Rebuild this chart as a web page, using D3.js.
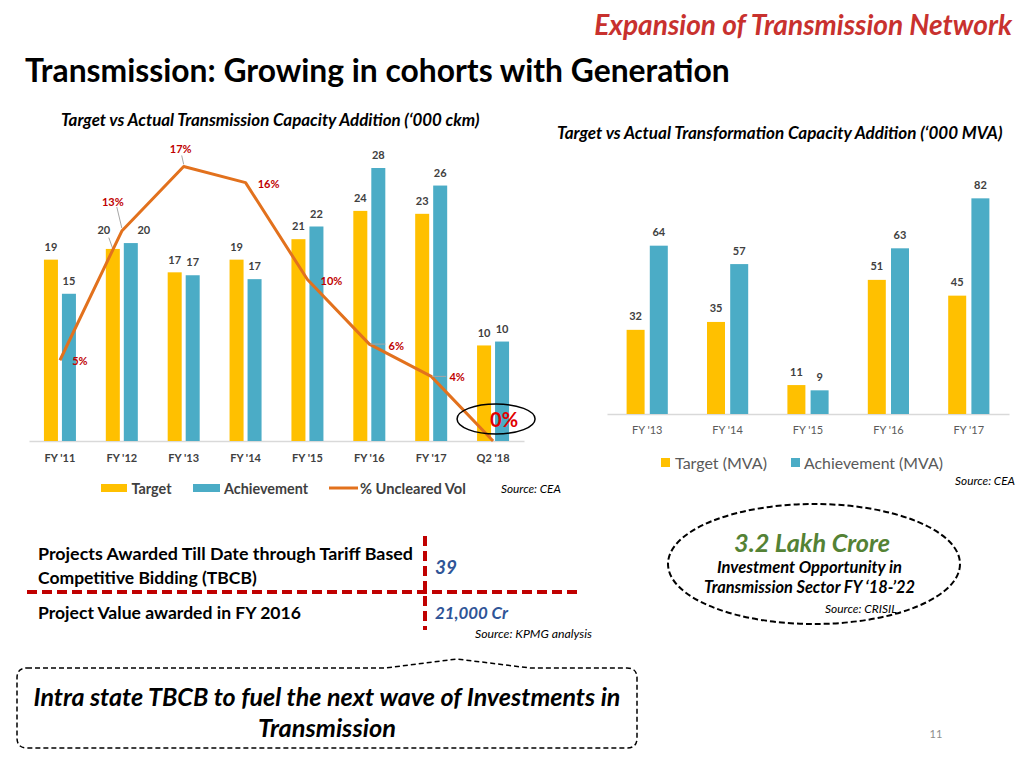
<!DOCTYPE html>
<html>
<head>
<meta charset="utf-8">
<script src="https://cdn.jsdelivr.net/npm/d3@7"></script>
<style>
  html, body { margin: 0; padding: 0; background: #ffffff; }
  svg { display: block; }
  text { font-family: Lato, "Open Sans", "Liberation Sans", sans-serif; }
</style>
</head>
<body>
<script>
// ---------------- DATA ----------------
const categories = ["FY '11", "FY '12", "FY '13", "FY '14", "FY '15", "FY '16", "FY '17", "Q2 '18"];
const targetCkm = [18.6, 19.7, 17.3, 18.6, 20.7, 23.6, 23.3, 9.8];
const achievementCkm = [15.1, 20.3, 17.0, 16.6, 22.0, 28.0, 26.2, 10.2];
const unclearedPct = [5, 13, 17, 16, 10, 6, 4, 0];

const mvaCategories = ["FY '13", "FY '14", "FY '15", "FY '16", "FY '17"];
const targetMva = [32, 35, 11, 51, 45];
const achievementMva = [64, 57, 9, 63, 82];

const leftLegend = ["Target", "Achievement", "% Uncleared Vol"];
const rightLegend = ["Target (MVA)", "Achievement (MVA)"];

// ---------------- STYLE ----------------
const YELLOW = "#FFC000", BLUE = "#4BACC6", ORANGE = "#E2711D";
const DARK = "#404040", RED = "#C00000";

const svg = d3.select("body").append("svg").attr("width", 1024).attr("height", 768);

function addText(parent, o) {
  const t = parent.append("text")
    .attr("x", o.x).attr("y", o.y)
    .attr("dominant-baseline", "central")
    .attr("text-anchor", o.anchor || "start")
    .attr("font-size", o.size || 12)
    .attr("font-weight", o.weight || "normal")
    .attr("font-style", o.style || "normal")
    .attr("fill", o.fill || "#000")
    .text(o.text);
  if (o.fit) {
    const w = t.node().getComputedTextLength();
    if (w > 0) t.attr("font-size", (o.size || 12) * o.fit / w);
  }
  return t;
}

// ---------------- TITLES ----------------
addText(svg, {x: 1012, y: 24, text: "Expansion of Transmission Network", size: 24, weight: "bold", style: "italic", fill: "#C8312E", anchor: "end", fit: 418});
addText(svg, {x: 25, y: 70, text: "Transmission: Growing in cohorts with Generation", size: 30, weight: "bold", fit: 705});
addText(svg, {x: 61, y: 119, text: "Target vs Actual Transmission Capacity Addition (\u2018000 ckm)", size: 14, weight: "bold", style: "italic", fit: 419});
addText(svg, {x: 557, y: 132, text: "Target vs Actual Transformation  Capacity Addition (\u2018000 MVA)", size: 14, weight: "bold", style: "italic", fit: 446});

// ---------------- LEFT CHART ----------------
const gL = svg.append("g");
const xL = d3.scaleBand().domain(categories).range([29, 524]).padding(0);
const xL1 = d3.scaleBand().domain(["t", "a"]).range([-16, 16]).paddingInner(0.222).paddingOuter(0);
const yL = d3.scaleLinear().domain([0, 30]).range([441, 441 - 9.75 * 30]);
const yP = d3.scaleLinear().domain([0, 18]).range([441, 441 - 16.15 * 18]);
const cx = c => xL(c) + xL.bandwidth() / 2;

const axL = gL.append("g").attr("transform", "translate(0,441)")
  .call(d3.axisBottom(xL).tickSize(0).tickSizeOuter(0).tickPadding(13));
axL.select(".domain").attr("stroke", "#D9D9D9").attr("stroke-width", 1.5);
axL.selectAll("text").attr("font-size", 11).attr("font-weight", "bold").attr("fill", DARK)
  .attr("font-family", "Lato, 'Open Sans', sans-serif");

const rowsL = categories.map((c, i) => ({c, i, t: targetCkm[i], a: achievementCkm[i], p: unclearedPct[i]}));

// bars
const grpL = gL.selectAll(".grp").data(rowsL).join("g").attr("transform", d => `translate(${cx(d.c)},0)`);
grpL.append("rect").attr("x", xL1("t")).attr("width", xL1.bandwidth())
  .attr("y", d => yL(d.t)).attr("height", d => yL(0) - yL(d.t)).attr("fill", YELLOW);
grpL.append("rect").attr("x", xL1("a")).attr("width", xL1.bandwidth())
  .attr("y", d => yL(d.a)).attr("height", d => yL(0) - yL(d.a)).attr("fill", BLUE);

// bar labels (layout nudges for labels that would collide with the line)
const nudgeT = {1: [-9, -6, true]};
const nudgeA = {1: [13, 0, false]};
grpL.each(function(d) {
  const g = d3.select(this);
  [["t", d.t, nudgeT[d.i]], ["a", d.a, nudgeA[d.i]]].forEach(([k, v, n]) => {
    const bx = xL1(k) + xL1.bandwidth() / 2;
    const by = yL(v);
    const dx = n ? n[0] : 0, dy = n ? n[1] : 0;
    if (n && n[2]) {
      g.append("line").attr("x1", bx + dx + 5).attr("y1", by - 13.3 + dy + 8)
        .attr("x2", bx).attr("y2", by).attr("stroke", "#A6A6A6").attr("stroke-width", 1);
    }
    addText(g, {x: bx + dx, y: by - 13.3 + dy, text: d3.format(".0f")(v), size: 11, weight: "bold", fill: DARK, anchor: "middle"});
  });
});

// line
const line = d3.line().x(d => cx(d.c)).y(d => yP(d.p));
gL.append("path").datum(rowsL).attr("d", line).attr("fill", "none")
  .attr("stroke", ORANGE).attr("stroke-width", 3).attr("stroke-linejoin", "round");

// percent labels: [dx, dy, leader]
const pctPos = [[20, 0, null], [-9, -30, [-5, -24, 0, -3]], [-3, -18, [-2, -11, 0, -2]], [23, 1, null],
                [24, 1, null], [27, 1, [1, 0, 16, 0]], [26, 0, [1, 0, 15, 0]], [11, -22, null]];
rowsL.forEach(d => {
  const px = cx(d.c), py = yP(d.p);
  const [dx, dy, ld] = pctPos[d.i];
  if (ld) {
    gL.append("line").attr("x1", px + ld[0]).attr("y1", py + ld[1]).attr("x2", px + ld[2]).attr("y2", py + ld[3])
      .attr("stroke", "#A6A6A6").attr("stroke-width", 1);
  }
  const big = d.p === 0;
  addText(gL, {x: px + dx, y: py + dy, text: d.p + "%", size: big ? 20 : 11, weight: "bold",
    fill: big ? "#E00000" : RED, anchor: "middle"});
  if (big) {
    gL.append("ellipse").attr("cx", px + 3).attr("cy", py + dy).attr("rx", 39).attr("ry", 15)
      .attr("fill", "none").attr("stroke", "#000").attr("stroke-width", 1.5);
  }
});

// left legend
const lg = gL.append("g");
lg.append("rect").attr("x", 101).attr("y", 484).attr("width", 26).attr("height", 8).attr("fill", YELLOW);
addText(lg, {x: 131.5, y: 488, text: leftLegend[0], size: 13, weight: "bold", fill: DARK, fit: 40});
lg.append("rect").attr("x", 193).attr("y", 484).attr("width", 27).attr("height", 8).attr("fill", BLUE);
addText(lg, {x: 224, y: 488, text: leftLegend[1], size: 13, weight: "bold", fill: DARK, fit: 84});
lg.append("line").attr("x1", 329).attr("x2", 358).attr("y1", 488).attr("y2", 488).attr("stroke", ORANGE).attr("stroke-width", 3);
addText(lg, {x: 360, y: 488, text: leftLegend[2], size: 13, weight: "bold", fill: DARK, fit: 106});
addText(lg, {x: 501, y: 488, text: "Source: CEA", size: 10, style: "italic", fill: "#000", fit: 60});

// ---------------- RIGHT CHART ----------------
const gR = svg.append("g");
const xR = d3.scaleBand().domain(mvaCategories).range([607, 1009]).padding(0);
const xR1 = d3.scaleBand().domain(["t", "a"]).range([-20.6, 20.6]).paddingInner(0.224).paddingOuter(0);
const yR = d3.scaleLinear().domain([0, 90]).range([414, 414 - 2.63 * 90]);

const axR = gR.append("g").attr("transform", "translate(0,414)")
  .call(d3.axisBottom(xR).tickSize(0).tickSizeOuter(0).tickPadding(12.5));
axR.select(".domain").attr("stroke", "#D9D9D9").attr("stroke-width", 1.5);
axR.selectAll("text").attr("font-size", 11).attr("fill", "#595959")
  .attr("font-family", "Lato, 'Open Sans', sans-serif");

const rowsR = mvaCategories.map((c, i) => ({c, t: targetMva[i], a: achievementMva[i]}));
const grpR = gR.selectAll(".grp").data(rowsR).join("g")
  .attr("transform", d => `translate(${xR(d.c) + xR.bandwidth() / 2},0)`);
grpR.each(function(d) {
  const g = d3.select(this);
  [["t", d.t, YELLOW], ["a", d.a, BLUE]].forEach(([k, v, col]) => {
    g.append("rect").attr("x", xR1(k)).attr("width", xR1.bandwidth())
      .attr("y", yR(v)).attr("height", yR(0) - yR(v)).attr("fill", col);
    addText(g, {x: xR1(k) + xR1.bandwidth() / 2, y: yR(v) - 14, text: String(v), size: 11, weight: "bold", fill: DARK, anchor: "middle"});
  });
});

const rg = gR.append("g");
rg.append("rect").attr("x", 661).attr("y", 458).attr("width", 9).attr("height", 9).attr("fill", YELLOW);
addText(rg, {x: 675, y: 462.5, text: rightLegend[0], size: 14, fill: "#595959", fit: 92});
rg.append("rect").attr("x", 791).attr("y", 458).attr("width", 9).attr("height", 9).attr("fill", BLUE);
addText(rg, {x: 804, y: 462.5, text: rightLegend[1], size: 14, fill: "#595959", fit: 139});
addText(rg, {x: 1015, y: 480.5, text: "Source: CEA", size: 10, style: "italic", fill: "#000", anchor: "end", fit: 60});

// ---------------- BOTTOM LEFT TABLE ----------------
const gB = svg.append("g");
addText(gB, {x: 38, y: 553, text: "Projects Awarded Till Date through Tariff Based", size: 16, weight: "bold", fit: 375});
addText(gB, {x: 38, y: 577, text: "Competitive Bidding (TBCB)", size: 16, weight: "bold", fit: 219});
addText(gB, {x: 38, y: 612, text: "Project Value awarded in FY 2016", size: 16, weight: "bold", fit: 263});
addText(gB, {x: 435, y: 566, text: "39", size: 19, weight: "bold", style: "italic", fill: "#2F5597", fit: 22});
addText(gB, {x: 435, y: 612, text: "21,000 Cr", size: 17, weight: "bold", style: "italic", fill: "#2F5597", fit: 73});
addText(gB, {x: 475, y: 633, text: "Source: KPMG analysis", size: 10.5, style: "italic", fill: "#000", fit: 117});
gB.append("line").attr("x1", 27).attr("x2", 577).attr("y1", 592).attr("y2", 592)
  .attr("stroke", "#C00000").attr("stroke-width", 4).attr("stroke-dasharray", "10,5");
gB.append("line").attr("x1", 425).attr("x2", 425).attr("y1", 536).attr("y2", 630)
  .attr("stroke", "#C00000").attr("stroke-width", 4).attr("stroke-dasharray", "10,5");

// ---------------- ELLIPSE CALLOUT ----------------
const gE = svg.append("g");
gE.append("ellipse").attr("cx", 814).attr("cy", 564).attr("rx", 146).attr("ry", 60)
  .attr("fill", "none").attr("stroke", "#000").attr("stroke-width", 2).attr("stroke-dasharray", "6,3");
addText(gE, {x: 812, y: 541.5, text: "3.2 Lakh Crore", size: 22, weight: "bold", style: "italic", fill: "#548235", anchor: "middle", fit: 156});
addText(gE, {x: 809.5, y: 566.5, text: "Investment Opportunity in", size: 14, weight: "bold", style: "italic", anchor: "middle", fit: 185});
addText(gE, {x: 809.5, y: 586, text: "Transmission Sector FY \u201818-\u201922", size: 14, weight: "bold", style: "italic", anchor: "middle", fit: 211});
addText(gE, {x: 825, y: 608, text: "Source: CRISIL", size: 10, style: "italic", fill: "#000", fit: 72});

// ---------------- BOTTOM CALLOUT BOX ----------------
const gC = svg.append("g");
const r = 10;
const boxPath = `M ${17 + r} 668 L 385 668 L 457 659 L 530 668 L ${637 - r} 668 Q 637 668 637 ${668 + r}
  L 637 ${748 - r} Q 637 748 ${637 - r} 748 L ${17 + r} 748 Q 17 748 17 ${748 - r} L 17 ${668 + r} Q 17 668 ${17 + r} 668 Z`;
gC.append("path").attr("d", boxPath).attr("fill", "none").attr("stroke", "#000")
  .attr("stroke-width", 1.5).attr("stroke-dasharray", "5,3");
addText(gC, {x: 327, y: 696, text: "Intra state TBCB to fuel the next wave of Investments in", size: 22, weight: "bold", style: "italic", anchor: "middle", fit: 587});
addText(gC, {x: 327, y: 727, text: "Transmission", size: 22, weight: "bold", style: "italic", anchor: "middle", fit: 138});

addText(svg, {x: 936, y: 733, text: "11", size: 11, fill: "#8C8C8C", anchor: "middle"});
</script>
</body>
</html>
